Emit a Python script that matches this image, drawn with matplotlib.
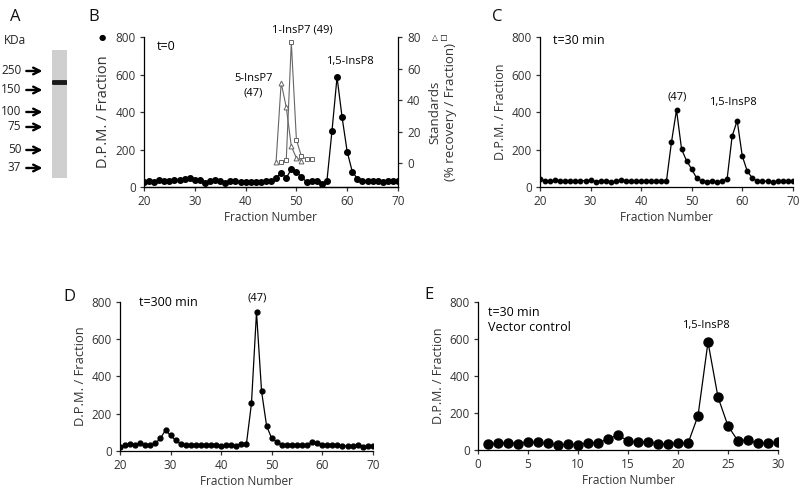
import matplotlib.pyplot as plt
import numpy as np

plt.rcParams['font.family'] = ['Open Sans', 'DejaVu Sans']
plt.rcParams['font.size'] = 8.5
plt.rcParams['axes.linewidth'] = 0.9

# --- data ---
frac_b = list(range(20, 71))
dpm_t0 = [27, 30, 27, 36, 32, 32, 37, 36, 45, 46, 39, 36, 21, 32, 37, 34, 21, 30, 30, 28,
          28, 27, 28, 28, 30, 30, 48, 77, 48, 95, 79, 54, 27, 32, 30, 14, 30, 298, 586, 371,
          188, 82, 45, 34, 30, 30, 30, 28, 30, 30, 32]
std5_frac = [46, 47, 48, 49, 50, 51]
std5_rec = [0.8, 51, 35.5, 10.6, 3.2, 1.5]
std1_frac = [47, 48, 49, 50, 51, 52, 53]
std1_rec = [0.8, 1.7, 76.6, 14.8, 4.2, 2.5, 2.3]

dpm_t30 = [41, 34, 30, 37, 34, 34, 34, 34, 34, 34, 36, 29, 34, 32, 29, 30, 39, 34, 32, 32,
           32, 32, 32, 34, 30, 30, 239, 411, 202, 139, 96, 46, 34, 29, 32, 25, 34, 41, 271, 354,
           166, 84, 48, 32, 34, 30, 25, 30, 30, 30, 30]

dpm_t300 = [23, 30, 37, 32, 41, 32, 32, 41, 68, 112, 84, 57, 37, 32, 32, 32, 32, 34, 30, 32,
            27, 32, 30, 29, 37, 37, 255, 745, 320, 134, 68, 48, 32, 32, 32, 30, 30, 30, 48, 41,
            34, 34, 34, 30, 25, 29, 29, 34, 23, 29, 29]

frac_e = list(range(1, 31))
dpm_vec = [31, 36, 40, 34, 43, 41, 36, 27, 31, 29, 40, 40, 58, 83, 47, 43, 45, 32, 32, 40,
           36, 185, 584, 286, 130, 49, 54, 36, 40, 41]

ladder_kda = ['250', '150', '100', '75', '50', '37']
ladder_migration = [21, 40, 62, 77, 100, 118]
band_migration = 32

fig = plt.figure(figsize=(8, 4.91), dpi=100)


def style_axes(ax, xticks, xlim, ylab_size=9):
    ax.spines['top'].set_visible(False)
    ax.spines['right'].set_visible(False)
    ax.set_ylim(0, 800)
    ax.set_yticks([0, 200, 400, 600, 800])
    ax.set_xlim(*xlim)
    ax.set_xticks(xticks)
    ax.tick_params(axis='both', length=3, width=0.9, pad=3, colors='#333333', labelcolor='#333333')
    ax.set_xlabel('Fraction Number', labelpad=2, color='#333333')
    ax.set_ylabel('D.P.M. / Fraction', labelpad=3, color='#333333', fontsize=ylab_size)


# --- A: western blot ---
axa = fig.add_axes([0.065, 0.6375, 0.01875, 0.2607])
axa.set_facecolor('#cfcfcf')
axa.set_xlim(0, 1)
axa.set_ylim(128, 0)
axa.set_xticks([])
axa.set_yticks([])
for s in axa.spines.values():
    s.set_visible(False)
axa.plot([0.08, 0.92], [band_migration, band_migration], color='#1a1a1a', lw=3.5, solid_capstyle='round')
for lab, m in zip(ladder_kda, ladder_migration):
    axa.annotate('', xy=(-0.45, m), xytext=(-1.9, m), xycoords=('axes fraction', 'data'),
                 arrowprops=dict(arrowstyle='->', lw=1.7, color='black', mutation_scale=12),
                 annotation_clip=False)
    axa.text(-2.05, m, lab, ha='right', va='center', fontsize=8.5, color='#222222', clip_on=False,
             transform=axa.get_yaxis_transform())
axa.text(-2.45, -3, 'KDa', ha='center', va='bottom', fontsize=8.5, color='#222222',
         transform=axa.get_yaxis_transform(), clip_on=False)

# --- B: t=0 ---
axb = fig.add_axes([0.18, 0.6191, 0.3175, 0.3055])
axb.plot(frac_b, dpm_t0, color='black', lw=0.9, marker='o', ms=4, zorder=3)
style_axes(axb, range(20, 71, 10), (20, 70), ylab_size=10.5)
axb.text(22.5, 750, 't=0', va='center', fontsize=9)
axb.text(-0.165, 800, '●', transform=axb.get_yaxis_transform(), fontsize=6, va='center', ha='center',
         family=['DejaVu Sans'])
axb.text(51.2, 810, '1-InsP7 (49)', ha='center', va='bottom', fontsize=8)
axb.text(41.5, 540, '5-InsP7\n(47)', ha='center', va='center', fontsize=8, linespacing=1.5)
axb.text(60.6, 670, '1,5-InsP8', ha='center', va='center', fontsize=8)
axb2 = axb.twinx()
axb2.plot(std5_frac, std5_rec, color='#666666', lw=0.8, marker='^', ms=3.5, mfc='white', mec='#666666', mew=0.7)
axb2.plot(std1_frac, std1_rec, color='#666666', lw=0.8, marker='s', ms=3.2, mfc='white', mec='#666666', mew=0.7)
axb2.set_ylim(-15.2, 80)
axb2.set_yticks([0, 20, 40, 60, 80])
axb2.spines['top'].set_visible(False)
axb2.spines['left'].set_visible(False)
axb2.tick_params(axis='y', length=3, width=0.9, colors='#333333', labelcolor='#333333')
axb2.set_ylabel('Standards\n(% recovery / Fraction)', color='#333333', labelpad=6, fontsize=9.5)
axb2.text(1.165, 80, '△ □', transform=axb2.get_yaxis_transform(), fontsize=5.5, va='center', ha='center',
          family=['DejaVu Sans'])

# --- C: t=30 min ---
axc = fig.add_axes([0.675, 0.6191, 0.316, 0.3055])
axc.plot(frac_b, dpm_t30, color='black', lw=0.9, marker='o', ms=3.2)
style_axes(axc, range(20, 71, 10), (20, 70))
axc.text(22.6, 784, 't=30 min', va='center', fontsize=9)
axc.text(47.1, 480, '(47)', ha='center', va='center', fontsize=8)
axc.text(58.1, 453, '1,5-InsP8', ha='center', va='center', fontsize=8)

# --- D: t=300 min ---
axd = fig.add_axes([0.15, 0.0815, 0.316, 0.3035])
axd.plot(frac_b, dpm_t300, color='black', lw=0.9, marker='o', ms=3.5)
style_axes(axd, range(20, 71, 10), (20, 70), ylab_size=9.3)
axd.text(23.7, 795, 't=300 min', va='center', fontsize=9)
axd.text(47.1, 820, '(47)', ha='center', va='center', fontsize=8)

# --- E: vector control ---
axe = fig.add_axes([0.5975, 0.0835, 0.375, 0.301])
axe.plot(frac_e, dpm_vec, color='black', lw=0.9, marker='o', ms=6.5, zorder=3)
style_axes(axe, range(0, 31, 5), (0, 30))
axe.text(1.0, 746, 't=30 min', va='center', fontsize=9)
axe.text(1.0, 665, 'Vector control', va='center', fontsize=9)
axe.text(22.8, 676, '1,5-InsP8', ha='center', va='center', fontsize=8)

# panel letters
for lab, x, y in [('A', 0.0125, 0.965), ('B', 0.11, 0.965), ('C', 0.615, 0.965),
                  ('D', 0.079, 0.395), ('E', 0.531, 0.399)]:
    fig.text(x, y, lab, fontsize=12, va='center', color='#111111')

fig.savefig('out.png', dpi=100)
